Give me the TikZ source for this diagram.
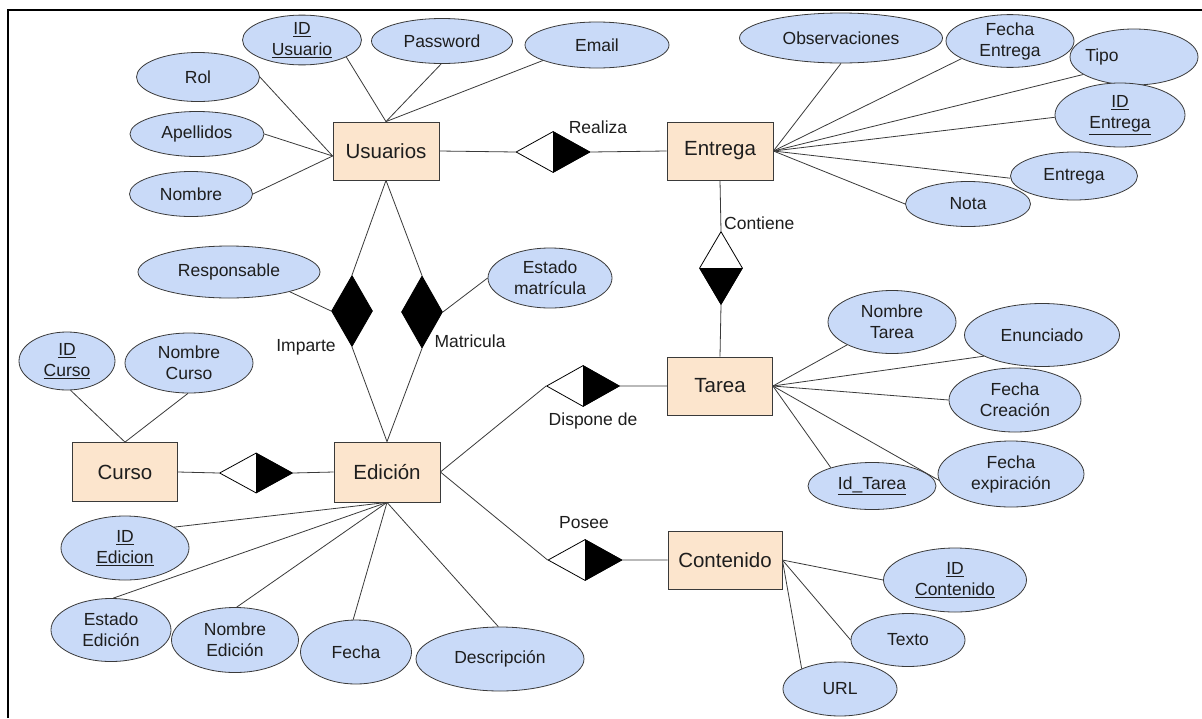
\documentclass[tikz,border=0pt]{standalone}
\usepackage{fontspec}
\setmainfont{Liberation Sans}
\usetikzlibrary{shapes.geometric}
\definecolor{entfill}{HTML}{FCE5CD}
\definecolor{attfill}{HTML}{C9DAF8}
\definecolor{edgec}{HTML}{3A3A3A}
\definecolor{ink}{HTML}{1E1E1E}
\begin{document}
\begin{tikzpicture}[x=1pt,y=-1pt,
  sz/.style 2 args={minimum width=#1pt, minimum height=#2pt},
  entity/.style={draw=edgec, fill=entfill, line width=0.8pt, inner sep=0pt,
    font=\fontsize{20.5}{24}\selectfont, text=ink},
  attr/.style={ellipse, draw=edgec, fill=attfill, line width=0.8pt, inner sep=0pt,
    align=center, font=\fontsize{17.5}{21}\selectfont, text=ink},
  attrtext/.style={inner sep=0pt, font=\fontsize{17.5}{21}\selectfont, text=ink},
  rel/.style={diamond, draw=black, fill=white, line width=0.8pt, inner sep=0pt},
  fullrel/.style={diamond, draw=black, fill=black, line width=0.8pt, inner sep=0pt},
  lbl/.style={inner sep=0pt, font=\fontsize{17.5}{21}\selectfont, text=ink},
  link/.style={draw=edgec, line width=0.8pt},
  halfblack/.style={fill=black},
]
\useasboundingbox (0,0) rectangle (1202,718);
\fill[white] (0,0) rectangle (1202,718);

% frame
\draw[line width=2pt] (8,718) -- (8,10) -- (1202,10);

% entities
\node[entity, sz={106}{58}] (usu) at (386,151) {Usuarios};
\node[entity, sz={106}{58}] (ent) at (720,151) {Entrega};
\node[entity, sz={105}{58}] (tar) at (720,386) {Tarea};
\node[entity, sz={105}{59}] (cur) at (125,472) {Curso};
\node[entity, sz={106}{60}] (edi) at (387,472) {Edición};
\node[entity, sz={114}{58}] (cnt) at (725,560) {Contenido};

% relationships
\node[rel, sz={74}{41}] (rea) at (553,152) {};
\node[rel, sz={43}{73}] (con) at (721,268) {};
\node[fullrel, sz={41}{71}] (imp) at (352,311) {};
\node[fullrel, sz={41}{72}] (mat) at (422,312) {};
\node[rel, sz={73}{41}] (dis) at (583,386) {};
\node[rel, sz={73}{40}] (cued) at (256,473) {};
\node[rel, sz={74}{41}] (pos) at (585,560) {};

% half-filled relationship markers
\fill[halfblack] (rea.north) -- (rea.east) -- (rea.south) -- cycle;
\fill[halfblack] (con.west) -- (con.south) -- (con.east) -- cycle;
\fill[halfblack] (dis.north) -- (dis.east) -- (dis.south) -- cycle;
\fill[halfblack] (cued.north) -- (cued.east) -- (cued.south) -- cycle;
\fill[halfblack] (pos.north) -- (pos.east) -- (pos.south) -- cycle;

% relationship labels
\node[lbl] (lrea) at (598,127) {Realiza};
\node[lbl, anchor=west] (lcon) at (724,223) {Contiene};
\node[lbl] (limp) at (306,347) {Imparte};
\node[lbl] (lmat) at (470,341) {Matricula};
\node[lbl] (ldis) at (593,421) {Dispone de};
\node[lbl] (lpos) at (584,523) {Posee};

% attributes of Usuarios
\node[attr, sz={119}{44}] (idu) at (302,40) {\underline{ID}\\\underline{Usuario}};
\node[attr, sz={141}{45}] (pas) at (442,41) {Password};
\node[attr, sz={144}{46}] (ema) at (597,45) {Email};
\node[attr, sz={123}{49}] (rol) at (198,77) {Rol};
\node[attr, sz={134}{45}] (ape) at (197,134) {Apellidos};
\node[attr, sz={123}{45}] (nom) at (191,194) {Nombre};

% attributes of Entrega
\node[attr, sz={203}{50}] (obs) at (841,38) {Observaciones};
\node[attr, sz={128}{48}] (fen) at (1010,41) {Fecha\\Entrega};
\node[attr, sz={128}{56}] (tip) at (1134,57) {};
\node[attrtext] (tipt) at (1102,57) {Tipo};
\node[attr, sz={130}{64}] (ide) at (1120,115) {\underline{ID}\\\underline{Entrega}};
\node[attr, sz={127}{48}] (enta) at (1074,176) {Entrega};
\node[attr, sz={125}{45}] (nota) at (968,204) {Nota};

% attributes of the relationships Imparte / Matricula
\node[attr, sz={182}{52}] (res) at (229,272) {Responsable};
\node[attr, sz={124}{60}] (esm) at (550,278) {Estado\\matrícula};

% attributes of Curso
\node[attr, sz={96}{58}] (idcu) at (67,361) {\underline{ID}\\\underline{Curso}};
\node[attr, sz={128}{60}] (nocu) at (189,363) {Nombre\\Curso};

% attributes of Tarea
\node[attr, sz={128}{63}] (nta) at (892,322) {Nombre\\Tarea};
\node[attr, sz={155}{63}] (enu) at (1042,335) {Enunciado};
\node[attr, sz={132}{64}] (fcr) at (1015,400) {Fecha\\Creación};
\node[attr, sz={146}{66}] (fex) at (1011,474) {Fecha\\expiración};
\node[attr, sz={128}{47}] (idt) at (872,486) {\underline{Id\_Tarea}};

% attributes of Edición
\node[attr, sz={128}{64}] (ided) at (125,548) {\underline{ID}\\\underline{Edicion}};
\node[attr, sz={120}{63}] (esed) at (111,630) {Estado\\Edición};
\node[attr, sz={127}{65}] (noed) at (235,640) {Nombre\\Edición};
\node[attr, sz={111}{64}] (fec) at (356,652) {Fecha};
\node[attr, sz={168}{64}] (desc) at (500,659) {Descripción};

% attributes of Contenido
\node[attr, sz={143}{64}] (idc) at (955,580) {\underline{ID}\\\underline{Contenido}};
\node[attr, sz={114}{53}] (tex) at (908,640) {Texto};
\node[attr, sz={114}{54}] (url) at (840,689) {URL};

% connectors between entities and relationships
\path[link] (usu.east) -- (rea.west) (rea.east) -- (ent.west);
\path[link] (ent.south) -- (con.north) (con.south) -- (tar.north);
\path[link] (usu.south) -- (imp.north) (imp.south) -- (edi.north);
\path[link] (usu.south) -- (mat.north) (mat.south) -- (edi.north);
\path[link] (cur.east) -- (cued.west) (cued.east) -- (edi.west);
\path[link] (edi.east) -- (dis.west) (dis.east) -- (tar.west);
\path[link] (edi.east) -- (pos.west) (pos.east) -- (cnt.west);
\path[link] (res.-18) -- (imp.west);
\path[link] (mat.east) -- (esm.west);

% connectors to attributes
\path[link] (usu.north) -- (idu.-21);
\path[link] (usu.north) -- (pas.-92);
\path[link] (usu.north) -- (ema.196);
\path[link] ([yshift=-5pt]usu.west) -- (rol.east);
\path[link] ([yshift=-5pt]usu.west) -- (ape.east);
\path[link] ([yshift=-5pt]usu.west) -- (nom.east);

\path[link] (ent.east) -- (obs.south);
\path[link] (ent.east) -- (fen.200);
\path[link] (ent.east) -- (tip.199);
\path[link] (ent.east) -- (ide.182);
\path[link] (ent.east) -- (enta.182);
\path[link] (ent.east) -- (nota.west);

\path[link] (cur.north) -- (idcu.-83);
\path[link] (cur.north) -- (nocu.-92);

\path[link] (tar.east) -- (nta.207);
\path[link] (tar.east) -- (enu.200);
\path[link] (tar.east) -- (fcr.west);
\path[link] (tar.east) -- (fex.185);
\path[link] (tar.east) -- (idt.156);

\path[link] (edi.south) -- (ided.23);
\path[link] (edi.south) -- (esed.86);
\path[link] (edi.south) -- (noed.87);
\path[link] (edi.south) -- (fec.95);
\path[link] (edi.south) -- (desc.93);

\path[link] (cnt.east) -- (idc.west);
\path[link] (cnt.east) -- (tex.west);
\path[link] (cnt.east) -- (url.152);
\end{tikzpicture}
\end{document}
